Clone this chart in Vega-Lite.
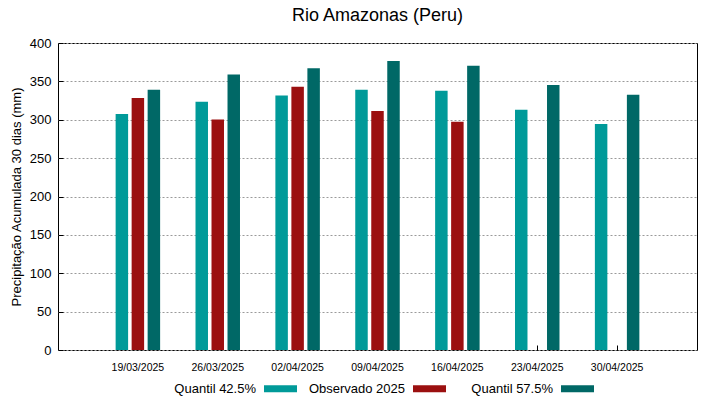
{
  "$schema": "https://vega.github.io/schema/vega-lite/v6.json",
  "width": 639,
  "height": 307,
  "autosize": {"type": "none"},
  "padding": {"left": 58, "top": 43, "right": 22, "bottom": 49},
  "background": "white",
  "config": {
    "font": "Liberation Sans",
    "view": {"stroke": "black", "strokeWidth": 1},
    "axis": {"domain": false, "tickColor": "black", "labelColor": "black", "titleColor": "black", "titleFontWeight": "normal"}
  },
  "title": {"text": "Rio Amazonas (Peru)", "fontSize": 18, "fontWeight": "normal", "color": "black", "offset": 12, "anchor": "middle"},
  "data": {
    "values": [
      {"date": "19/03/2025", "serie": "Quantil 42.5%", "value": 307.4},
      {"date": "19/03/2025", "serie": "Observado 2025", "value": 328.3},
      {"date": "19/03/2025", "serie": "Quantil 57.5%", "value": 339.1},
      {"date": "26/03/2025", "serie": "Quantil 42.5%", "value": 323.5},
      {"date": "26/03/2025", "serie": "Observado 2025", "value": 300.4},
      {"date": "26/03/2025", "serie": "Quantil 57.5%", "value": 359.1},
      {"date": "02/04/2025", "serie": "Quantil 42.5%", "value": 331.7},
      {"date": "02/04/2025", "serie": "Observado 2025", "value": 343.0},
      {"date": "02/04/2025", "serie": "Quantil 57.5%", "value": 367.0},
      {"date": "09/04/2025", "serie": "Quantil 42.5%", "value": 339.1},
      {"date": "09/04/2025", "serie": "Observado 2025", "value": 311.3},
      {"date": "09/04/2025", "serie": "Quantil 57.5%", "value": 376.5},
      {"date": "16/04/2025", "serie": "Quantil 42.5%", "value": 337.8},
      {"date": "16/04/2025", "serie": "Observado 2025", "value": 297.4},
      {"date": "16/04/2025", "serie": "Quantil 57.5%", "value": 370.4},
      {"date": "23/04/2025", "serie": "Quantil 42.5%", "value": 313.0},
      {"date": "23/04/2025", "serie": "Quantil 57.5%", "value": 345.2},
      {"date": "30/04/2025", "serie": "Quantil 42.5%", "value": 294.3},
      {"date": "30/04/2025", "serie": "Quantil 57.5%", "value": 332.6}
    ]
  },
  "mark": {"type": "bar"},
  "encoding": {
    "x": {
      "field": "date", "type": "ordinal", "sort": null,
      "scale": {"paddingInner": 0.443, "paddingOuter": 0.7215},
      "axis": {"title": null, "labelAngle": 0, "labelFontSize": 10.5, "tickSize": -5, "labelPadding": 17}
    },
    "xOffset": {
      "field": "serie", "type": "nominal",
      "sort": ["Quantil 42.5%", "Observado 2025", "Quantil 57.5%"],
      "scale": {"domain": ["Quantil 42.5%", "Observado 2025", "Quantil 57.5%"], "paddingInner": 0.22, "paddingOuter": 0}
    },
    "y": {
      "field": "value", "type": "quantitative",
      "scale": {"domain": [0, 400], "nice": false},
      "axis": {
        "title": "Precipitação Acumulada 30 dias (mm)", "titleFontSize": 13, "titlePadding": 6,
        "values": [0, 50, 100, 150, 200, 250, 300, 350, 400],
        "labelFontSize": 13, "tickSize": -5, "labelPadding": 12,
        "grid": true, "gridColor": "#9a9a9a", "gridDash": [2, 2], "gridWidth": 1
      }
    },
    "color": {
      "field": "serie", "type": "nominal",
      "scale": {"domain": ["Quantil 42.5%", "Observado 2025", "Quantil 57.5%"], "range": ["#009a99", "#9b1010", "#006866"]},
      "legend": {
        "title": null, "orient": "none", "direction": "horizontal", "legendX": 103, "legendY": 329,
        "symbolType": "M-7.3,0M-1,-0.21H1V0.21H-1Z", "symbolSize": 1089, "symbolStrokeWidth": 0,
        "symbolOffset": 103, "labelOffset": -41, "labelAlign": "right",
        "labelFontSize": 13, "labelColor": "black", "columnPadding": 11
      }
    }
  }
}
